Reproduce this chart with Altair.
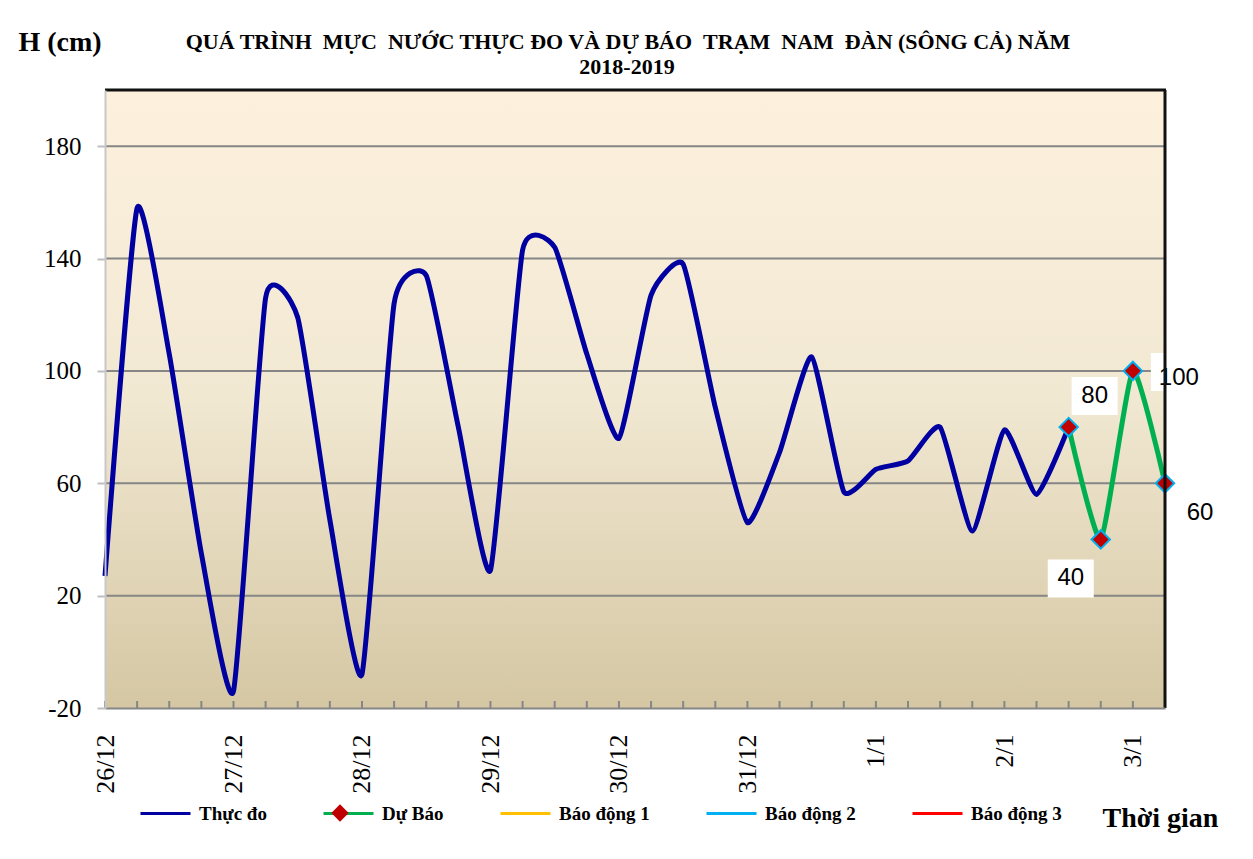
import altair as alt
import pandas as pd

# ---------------- data ----------------
obs_idx = list(range(31))
obs_val = [27, 158, 106, 35, -14, 126, 119, 47, -8, 124, 134, 80, 29, 143, 144, 106,
           76, 127, 138, 87, 46, 71, 105, 57, 65, 68, 80, 43, 79, 56, 80]
fc_idx = [30, 31, 32, 33]
fc_val = [80, 40, 100, 60]
day_labels = ["26/12", "27/12", "28/12", "29/12", "30/12", "31/12", "1/1", "2/1", "3/1"]
day_pos = [0, 4, 8, 12, 16, 20, 24, 28, 32]
minor_ticks = list(range(34))
y_ticks = [-20, 20, 60, 100, 140, 180]
grid_vals = [20, 60, 100, 140, 180]
series_names = ["Thực đo", "Dự Báo", "Báo động 1", "Báo động 2", "Báo động 3"]
series_colors = ["#0000A0", "#00B050", "#FFC000", "#00B0F0", "#FF0000"]
NB = "\u00a0"
title_lines = [f"QUÁ TRÌNH {NB}MỰC {NB}NƯỚC THỰC ĐO VÀ DỰ BÁO {NB}TRẠM {NB}NAM {NB}ĐÀN (SÔNG CẢ) NĂM",
               "2018-2019"]

# label offsets (styling)
label_dx = [26, -30, 46, 35]
label_dy = [-31, 39, 7, 30]
box_dx = [26, -30, 41, 35]
box_dy = [-31, 39, 1, 30]

W, H = 1060, 618
SERIF = "Liberation Serif"
SANS = "Liberation Sans"

lines_df = pd.DataFrame({
    "idx": obs_idx + fc_idx,
    "val": obs_val + fc_val,
    "series": [series_names[0]] * len(obs_idx) + [series_names[1]] * len(fc_idx),
})
fc_df = pd.DataFrame({"idx": fc_idx, "val": fc_val, "kind": ["fc"] * len(fc_idx),
                      "lab": [str(v) for v in fc_val]})

xs = alt.Scale(domain=[0, 33], nice=False, zero=False)
ys = alt.Scale(domain=[-20, 200], nice=False, zero=False)

label_js = "{" + ",".join(f"'{p}':'{l}'" for p, l in zip(day_pos, day_labels)) + "}"

one = pd.DataFrame({"a": [0]})

# background gradient
bg = alt.Chart(one).mark_rect(
    color=alt.Gradient(gradient="linear",
                       stops=[alt.GradientStop(color="#FDF1DE", offset=0),
                              alt.GradientStop(color="#F1E8D2", offset=0.5),
                              alt.GradientStop(color="#D5C7A3", offset=1)],
                       x1=0, x2=0, y1=0, y2=1)
).encode(x=alt.value(0), x2=alt.value(W), y=alt.value(0), y2=alt.value(H))

# outer figure border
outer = alt.Chart(one).mark_rect(fill=None, stroke="#8C8C8C", strokeWidth=2).encode(
    x=alt.value(-98), x2=alt.value(W + 82), y=alt.value(-83), y2=alt.value(H + 300))

# title lines
title1 = alt.Chart(one).mark_text(text=title_lines[0], font=SERIF, fontSize=22,
                                  fontWeight="bold", color="#000000",
                                  align="center", baseline="middle").encode(
    x=alt.value(W / 2 - 7), y=alt.value(-48))
title2 = alt.Chart(one).mark_text(text=title_lines[1], font=SERIF, fontSize=22,
                                  fontWeight="bold", color="#000000",
                                  align="center", baseline="middle").encode(
    x=alt.value(W / 2 - 8), y=alt.value(-23))

grid = alt.Chart(pd.DataFrame({"g": grid_vals})).mark_rule(color="#868686", strokeWidth=2).encode(
    y=alt.Y("g:Q", scale=ys), x=alt.value(0), x2=alt.value(W))

top_border = alt.Chart(pd.DataFrame({"g": [200]})).mark_rule(color="#111111", strokeWidth=3).encode(
    y=alt.Y("g:Q", scale=ys), x=alt.value(0), x2=alt.value(W + 1))
right_border = alt.Chart(pd.DataFrame({"g": [33]})).mark_rule(color="#111111", strokeWidth=3).encode(
    x=alt.X("g:Q", scale=xs), y=alt.value(0), y2=alt.value(H))

ticks = alt.Chart(pd.DataFrame({"t": minor_ticks})).mark_rule(color="#868686", strokeWidth=2).encode(
    x=alt.X("t:Q", scale=xs), y=alt.value(H - 7), y2=alt.value(H))

lines = alt.Chart(lines_df).mark_line(interpolate="cardinal", tension=0.5, strokeWidth=5).encode(
    x=alt.X("idx:Q", scale=xs,
            axis=alt.Axis(values=day_pos, labelExpr=label_js + "[datum.value]",
                          labelAngle=-90, labelAlign="right", labelBaseline="middle",
                          labelFont=SERIF, labelFontSize=26, labelColor="#000000",
                          labelPadding=26, ticks=False, grid=False,
                          domainColor="#868686", domainWidth=2, zindex=1,
                          title="Thời gian", titleFont=SERIF, titleFontSize=28,
                          titleFontWeight="bold", titleColor="#000000",
                          titleAngle=0, titleAlign="left", titleBaseline="middle",
                          titleX=997, titleY=110)),
    y=alt.Y("val:Q", scale=ys,
            axis=alt.Axis(values=y_ticks, grid=False, tickColor="#BFBFBF", tickWidth=2,
                          tickSize=8, labelFont=SERIF, labelFontSize=25,
                          labelExpr="datum.value < 0 ? '-' + abs(datum.value) : datum.label",
                          labelColor="#000000", labelPadding=16,
                          domainColor="#C8C8C8", domainWidth=2, zindex=1,
                          title="H (cm)", titleFont=SERIF, titleFontSize=28,
                          titleFontWeight="bold", titleColor="#000000",
                          titleAngle=0, titleAlign="left", titleBaseline="middle",
                          titleX=-87, titleY=-48)),
    color=alt.Color("series:N",
                    scale=alt.Scale(domain=series_names, range=series_colors),
                    legend=alt.Legend(orient="none", legendX=34, legendY=697,
                                      direction="horizontal", title=None,
                                      symbolType="stroke", symbolSize=2500,
                                      symbolStrokeWidth=3, labelFont=SERIF,
                                      labelFontSize=19, labelFontWeight="bold",
                                      labelColor="#000000", labelOffset=7,
                                      columnPadding=50, gridAlign="none")),
)

pts = alt.Chart(fc_df).mark_point(filled=True, size=340, fill="#C00000", stroke="#00B0F0",
                                  strokeWidth=2, opacity=1, fillOpacity=1).encode(
    x=alt.X("idx:Q", scale=xs),
    y=alt.Y("val:Q", scale=ys),
    shape=alt.Shape("kind:N", scale=alt.Scale(domain=["fc"], range=["diamond"]),
                    legend=alt.Legend(orient="none", legendX=225, legendY=713, title=None,
                                      labelExpr="''", symbolFillColor="#C00000",
                                      symbolStrokeColor="#00B0F0", symbolStrokeWidth=2,
                                      symbolSize=300)),
)

label_layers = []
for i in range(len(fc_idx)):
    sub = fc_df.iloc[[i]]
    label_layers.append(
        alt.Chart(sub).mark_rect(color="white", width=46, height=38,
                                 xOffset=box_dx[i], yOffset=box_dy[i]).encode(
            x=alt.X("idx:Q", scale=xs), y=alt.Y("val:Q", scale=ys)))
for i in range(len(fc_idx)):
    sub = fc_df.iloc[[i]]
    label_layers.append(
        alt.Chart(sub).mark_text(font=SANS, fontSize=24, color="#000000",
                                 dx=label_dx[i], dy=label_dy[i],
                                 align="center", baseline="middle").encode(
            x=alt.X("idx:Q", scale=xs), y=alt.Y("val:Q", scale=ys), text="lab:N"))

chart = alt.layer(
    outer, title1, title2, bg, grid, ticks, *label_layers[:4], lines, pts, *label_layers[4:],
    top_border, right_border,
).properties(
    width=W, height=H,
    autosize=alt.AutoSizeParams(type="none"),
    padding={"left": 97, "top": 82, "right": 80, "bottom": 138},
).configure_view(stroke=None).configure(background="white")

chart.save("out.html", embed_options={"renderer": "svg", "actions": False})
